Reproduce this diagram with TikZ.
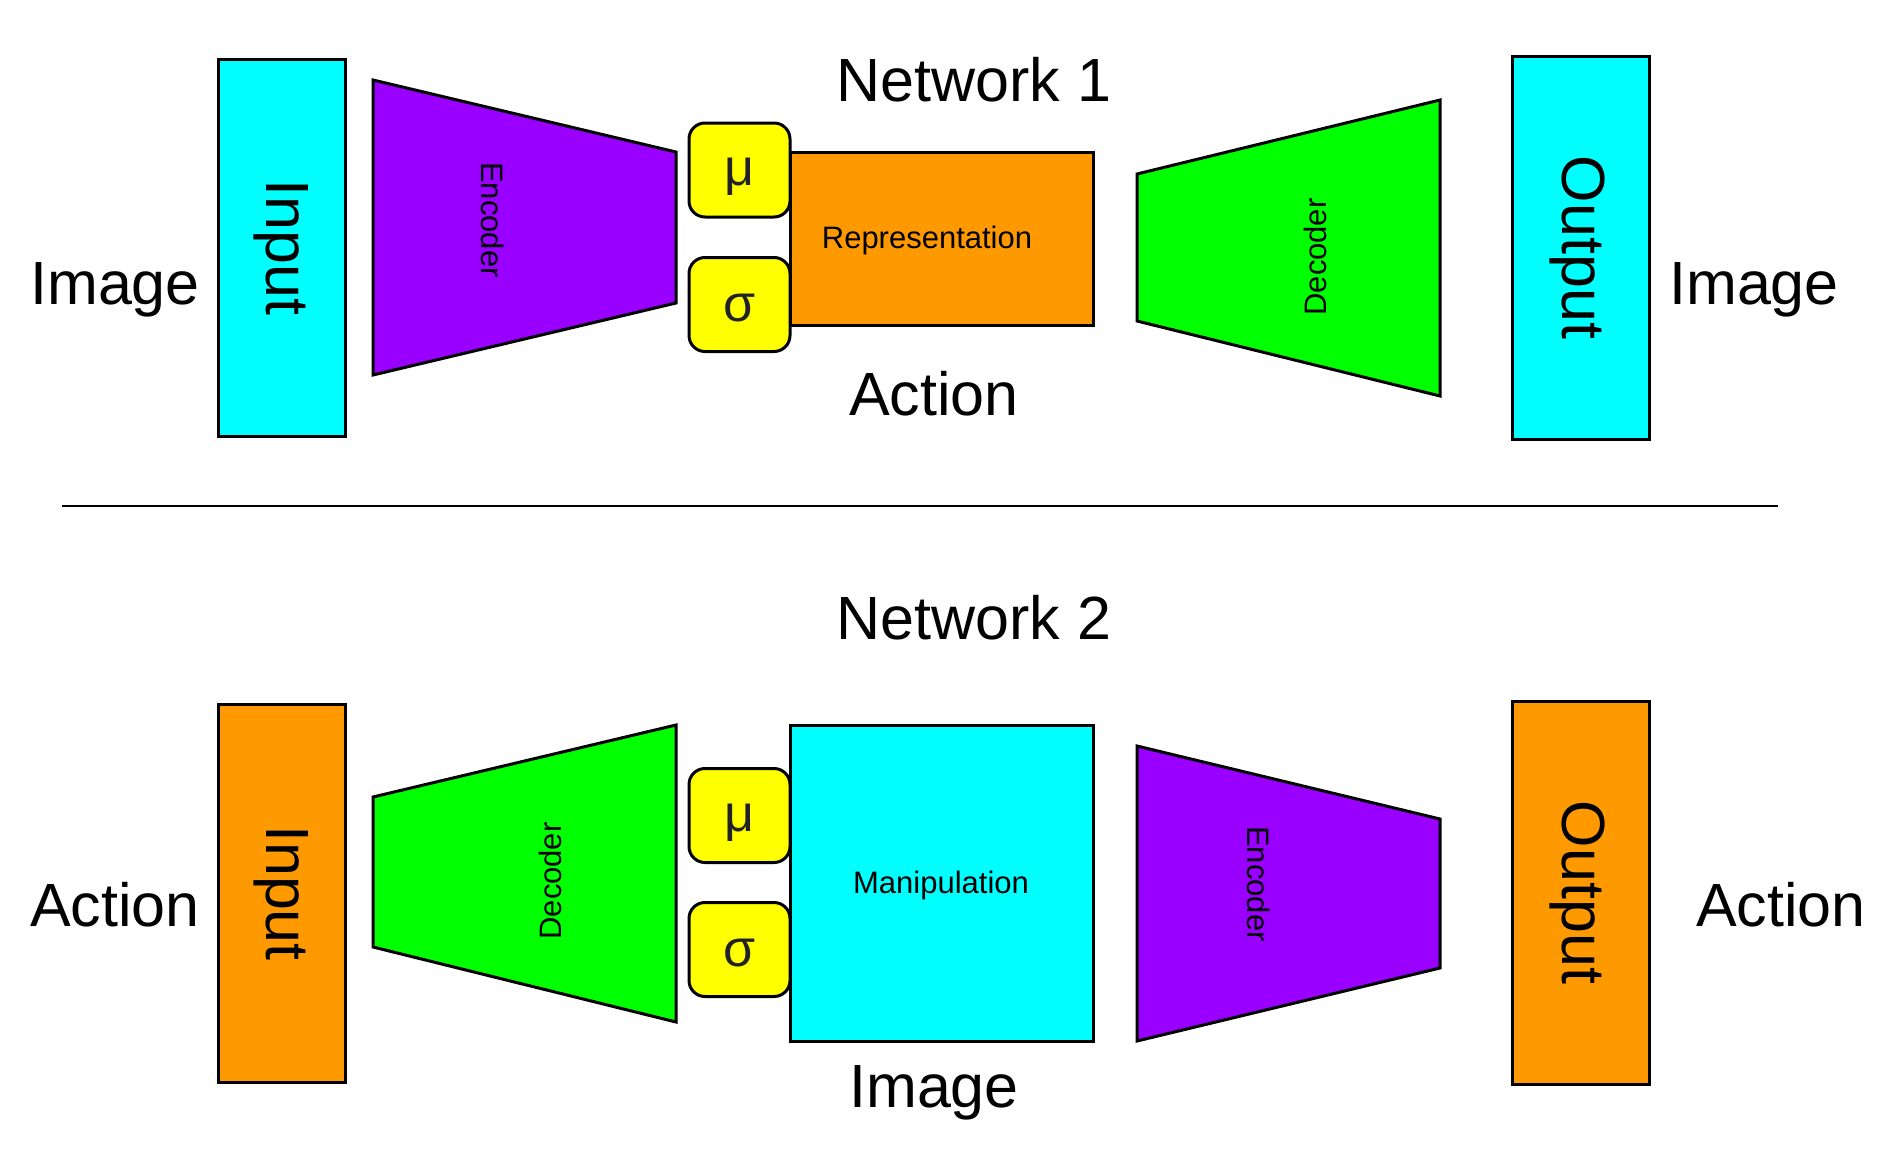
\documentclass[tikz,border=0pt]{standalone}
\usepackage{fontspec}
\setmainfont{Liberation Sans}
\definecolor{ccyan}{HTML}{00FFFF}
\definecolor{cpurple}{HTML}{9900FF}
\definecolor{corange}{HTML}{FF9900}
\definecolor{cgreen}{HTML}{00FF00}
\definecolor{cyellow}{HTML}{FFFF00}
\definecolor{greektext}{HTML}{222222}
\begin{document}
\begin{tikzpicture}[x=1pt,y=-1pt,
  outline/.style={draw=black, line width=3pt},
  boxnode/.style={outline, rectangle, inner sep=0pt, outer sep=0pt},
  greekbox/.style={boxnode, fill=cyellow, rounded corners=16pt, minimum width=101pt, minimum height=94pt},
  greek/.style={font=\fontsize{52}{58}\selectfont, text=greektext, inner sep=0pt},
  big/.style={font=\fontsize{61}{70}\selectfont, inner sep=0pt},
  small/.style={font=\fontsize{31}{36}\selectfont, inner sep=0pt}]
\useasboundingbox (0,0) rectangle (1880,1173);
\fill[white] (0,0) rectangle (1880,1173);

% ---------------- Network 1 ----------------
\node[big] (net1) at (974,80) {Network 1};
\node[big] (img1l) at (115,290) {Image};
\node[big] (img1r) at (1754,290) {Image};

\node[boxnode, fill=ccyan, minimum width=127pt, minimum height=377pt] (in1) at (281.5,247.5) {};
\node[big, rotate=-90] (in1t) at (in1) {Input};

\draw[outline, fill=cpurple] (373,80) -- (676,152) -- (676,303) -- (373,375) -- cycle;
\node[small, rotate=-90] (enc1) at (493,220) {Encoder};

\node[boxnode, fill=corange, minimum width=303pt, minimum height=173pt] (rep) at (941.5,238.5) {};
\node[small] (rept) at (927,240) {Representation};

\node[greekbox] (mu1) at (739.5,170) {};
\node[greek] (mu1t) at ([yshift=-7pt]mu1.center) {μ};
\node[greekbox] (sig1) at (739.5,304.5) {};
\node[greek] (sig1t) at ([yshift=-4pt]sig1.center) {σ};

\node[big] (act1) at (934,394) {Action};

\draw[outline, fill=cgreen] (1137,174) -- (1440,100) -- (1440,396) -- (1137,321) -- cycle;
\node[small, rotate=90] (dec1) at (1315,257) {Decoder};

\node[boxnode, fill=ccyan, minimum width=137pt, minimum height=383pt] (out1) at (1580.5,247.5) {};
\node[big, rotate=-90] (out1t) at ([xshift=-3pt]out1.center) {Output};

% separator
\coordinate (sepL) at (62,506);
\coordinate (sepR) at (1778,506);
\draw[line width=2.5pt] (sepL) -- (sepR);

% ---------------- Network 2 ----------------
\node[big] (net2) at (974,618) {Network 2};
\node[big] (act2l) at (115,905) {Action};
\node[big] (act2r) at (1781,905) {Action};

\node[boxnode, fill=corange, minimum width=127pt, minimum height=378pt] (in2) at (281.5,893) {};
\node[big, rotate=-90] (in2t) at (in2) {Input};

\draw[outline, fill=cgreen] (373,797) -- (676,725) -- (676,1022) -- (373,947) -- cycle;
\node[small, rotate=90] (dec2) at (550,881) {Decoder};

\node[boxnode, fill=ccyan, minimum width=303pt, minimum height=316pt] (man) at (941.5,883) {};
\node[small] (mant) at (941,885) {Manipulation};

\node[greekbox] (mu2) at (739.5,815.5) {};
\node[greek] (mu2t) at ([yshift=-7pt]mu2.center) {μ};
\node[greekbox] (sig2) at (739.5,949.5) {};
\node[greek] (sig2t) at ([yshift=-4pt]sig2.center) {σ};

\node[big] (img2) at (934,1093) {Image};

\draw[outline, fill=cpurple] (1137,746) -- (1440,819) -- (1440,968) -- (1137,1041) -- cycle;
\node[small, rotate=-90] (enc2) at (1259,884) {Encoder};

\node[boxnode, fill=corange, minimum width=137pt, minimum height=383pt] (out2) at (1580.5,892.5) {};
\node[big, rotate=-90] (out2t) at ([xshift=-3pt]out2.center) {Output};
\end{tikzpicture}
\end{document}
